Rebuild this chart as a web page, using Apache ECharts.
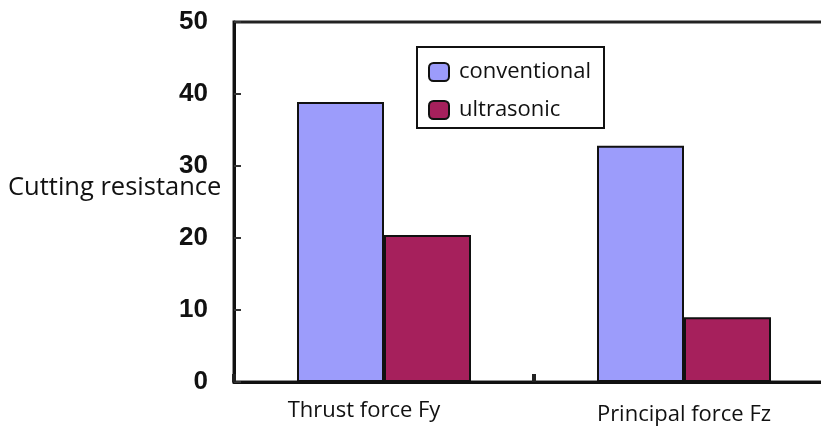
<!DOCTYPE html>
<html>
<head>
<meta charset="utf-8">
<script src="https://cdn.jsdelivr.net/npm/echarts@6/dist/echarts.min.js"></script>
<style>html,body{margin:0;padding:0;background:#fff}#c{width:821px;height:431px}</style>
</head>
<body>
<div id="c"></div>
<script>
var categories = ['Thrust force Fy', 'Principal force Fz'];
var conventional = [38.9, 32.8];
var ultrasonic = [20.4, 9.0];
var yTicks = [0, 10, 20, 30, 40, 50];

var chart = echarts.init(document.getElementById('c'));
chart.setOption({
  animation: false,
  backgroundColor: '#fff',
  grid: { left: 234, right: -13, top: 22, bottom: 49, show: true, borderColor: '#222', borderWidth: 3,
          containLabel: false, outerBoundsMode: 'none' },
  legend: {
    orient: 'vertical', left: 417, top: 47,
    padding: [14, 13, 7, 11],
    borderColor: '#111', borderWidth: 2,
    itemWidth: 20, itemHeight: 18, itemGap: 16,
    textStyle: { fontFamily: 'Open Sans', fontSize: 22, color: '#111', padding: [0, 0, 0, 5] },
    data: ['conventional', 'ultrasonic']
  },
  graphic: [{
    type: 'text', left: 8, top: 175,
    style: { text: 'Cutting resistance', font: '25.5px "Open Sans"', fill: '#111' }
  }],
  xAxis: {
    type: 'category',
    data: [
      { value: categories[0], textStyle: { padding: [0, 40, 0, 0] } },
      { value: categories[1], textStyle: { padding: [4, 0, 0, 0] } }
    ],
    axisLine: { lineStyle: { color: '#111', width: 3 } },
    axisTick: { show: true, interval: 0, inside: true, length: 8, lineStyle: { color: '#222', width: 4 } },
    axisLabel: { fontFamily: 'Open Sans', fontSize: 22, color: '#111', margin: 18 }
  },
  yAxis: {
    type: 'value', min: yTicks[0], max: yTicks[yTicks.length - 1], interval: 10,
    splitLine: { show: false },
    axisLine: { show: true, lineStyle: { color: '#111', width: 3 } },
    axisTick: { show: true, inside: true, length: 7, lineStyle: { color: '#333', width: 2 } },
    axisLabel: { fontFamily: '"Liberation Sans"', fontWeight: 'bold', fontSize: 26, color: '#111', margin: 26 }
  },
  series: [
    { name: 'conventional', type: 'bar', data: conventional, barWidth: '29%', barGap: '0%',
      itemStyle: { color: '#9c9cfb', borderColor: '#111', borderWidth: 2 } },
    { name: 'ultrasonic', type: 'bar', data: ultrasonic, barWidth: '29%',
      itemStyle: { color: '#a6205c', borderColor: '#111', borderWidth: 2 } }
  ]
});
</script>
</body>
</html>
